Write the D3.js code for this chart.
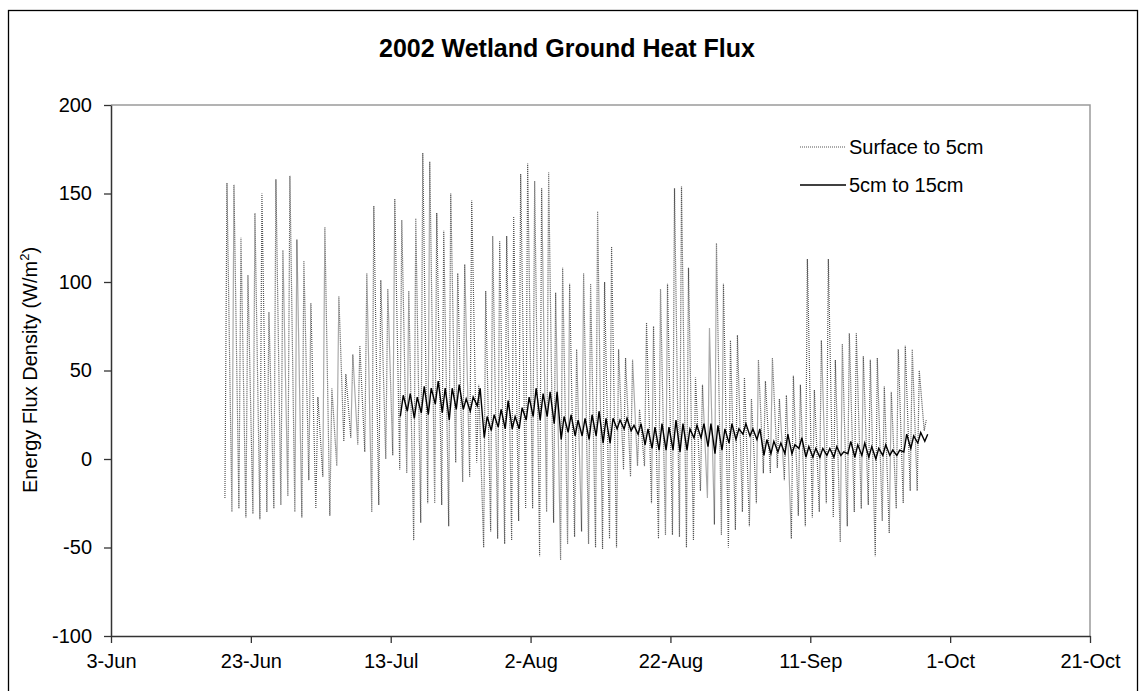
<!DOCTYPE html>
<html>
<head>
<meta charset="utf-8">
<style>
  body { margin: 0; background: #fff; }
  text { font-family: "Liberation Sans", Arial, sans-serif; fill: #000; }
</style>
</head>
<body>
<div id="chart-area"></div>

<script src="https://d3js.org/d3.v7.min.js"></script>
<script>
    // tick labels
    const xTickLabels = ["3-Jun", "23-Jun", "13-Jul", "2-Aug", "22-Aug", "11-Sep", "1-Oct", "21-Oct"];
    const yTicks = [-100, -50, 0, 50, 100, 150, 200];

    // Surface to 5cm: one peak and one trough per day, starting 19-Jun
    const surfStart = "19-Jun";
    const surfMax = [
        156, 155, 125, 104, 139, 150, 83, 158, 118, 160,
        124, 112, 88, 35, 131, 40, 92, 48, 59, 64,
        105, 143, 101, 96, 147, 135, 95, 136, 173, 168,
        139, 129, 150, 105, 110, 146, 42, 95, 126, 123,
        126, 137, 161, 167, 157, 153, 162, 94, 108, 99,
        62, 105, 99, 140, 100, 120, 62, 57, 56, 28,
        77, 75, 96, 99, 153, 154, 108, 46, 42, 74,
        122, 99, 67, 70, 46, 34, 56, 44, 57, 34,
        36, 47, 42, 113, 39, 67, 113, 56, 65, 71,
        71, 58, 56, 57, 41, 38, 62, 64, 62, 50,
        22
    ];
    const surfMin = [
        -22, -30, -28, -33, -31, -34, -30, -28, -26, -21,
        -30, -33, -12, -28, -10, -32, -4, 10, 12, 8,
        4, -30, -26, 0, 2, -6, -8, -46, -36, -25,
        -25, -26, -38, -2, -13, -10, -2, -50, -41, -45,
        -48, -46, -35, -28, -28, -55, -30, -36, -57, -48,
        -44, -41, -48, -50, -51, -45, -50, -6, -10, -4,
        -4, -25, -45, -43, -43, -44, -50, -46, -18, -22,
        -37, -43, -50, -40, -30, -38, -25, -8, -8, -5,
        -12, -45, -32, -38, -33, -30, -25, -33, -47, -38,
        -30, -28, -26, -55, -35, -42, -28, -25, -18, -18,
        16
    ];

    // 5cm to 15cm: daily max / min, starting 14-Jul
    const deepStart = "14-Jul";
    const deepMax = [
        36, 37, 35, 41, 40, 44, 40, 40, 42, 34,
        35, 40, 24, 25, 28, 33, 24, 29, 35, 40,
        37, 38, 38, 24, 25, 22, 23, 25, 27, 23,
        23, 22, 23, 19, 20, 17, 18, 20, 18, 22,
        20, 17, 19, 20, 20, 19, 17, 20, 17, 20,
        17, 17, 11, 10, 9, 14, 8, 12, 7, 6,
        6, 6, 7, 4, 10, 8, 9, 7, 6, 8,
        5, 5, 14, 13, 15, 14
    ];
    const deepMin = [
        24, 27, 23, 26, 25, 31, 26, 22, 28, 28,
        27, 30, 12, 16, 18, 17, 17, 17, 22, 24,
        22, 24, 20, 11, 15, 13, 13, 11, 13, 9,
        9, 17, 17, 16, 14, 8, 6, 5, 5, 5,
        4, 5, 12, 12, 7, 3, 5, 9, 11, 14,
        13, 11, 2, 3, 4, 3, 3, 6, 1, 1,
        1, 2, 1, 2, 3, 1, 2, 1, 0, 2,
        2, 2, 4, 6, 9, 10
    ];

    const width = 1143;
    const height = 691;
    const margin = { left: 111, right: 1090, top: 105, bottom: 636 };

    const parseDay = s => d3.timeParse("%d-%b-%Y")(s + "-2002");
    const tickDates = xTickLabels.map(parseDay);

    // morning trough then afternoon peak for each day
    function buildSeries(start, lows, highs, lowHour, highHour) {
        const t0 = parseDay(start);
        const pts = [];
        lows.forEach((lo, i) => {
            const day = d3.timeDay.offset(t0, i);
            pts.push({ t: d3.timeHour.offset(day, lowHour), v: lo });
            pts.push({ t: d3.timeHour.offset(day, highHour), v: highs[i] });
        });
        return pts;
    }
    const surface = buildSeries(surfStart, surfMin, surfMax, 7, 14);
    const deep = buildSeries(deepStart, deepMin, deepMax, 9, 19);

    const svg = d3.select("#chart-area")
        .append("svg")
            .attr("width", width)
            .attr("height", height);

    // outer chart border
    svg.append("rect")
        .attr("x", 8.5).attr("y", 10.5)
        .attr("width", 1129).attr("height", 700)
        .attr("fill", "#fff")
        .attr("stroke", "#000")
        .attr("stroke-width", 1.3);

    const x = d3.scaleTime()
        .domain([tickDates[0], tickDates[tickDates.length - 1]])
        .range([margin.left, margin.right]);
    const y = d3.scaleLinear()
        .domain([-100, 200])
        .range([margin.bottom, margin.top]);

    // plot area frame (top + right are light grey)
    svg.append("path")
        .attr("d", `M${margin.left},${margin.top}H${margin.right}V${margin.bottom}`)
        .attr("fill", "none")
        .attr("stroke", "#9a9a9a")
        .attr("stroke-width", 1.5);

    const line = d3.line()
        .x(d => x(d.t))
        .y(d => y(d.v));

    svg.append("path")
        .datum(surface)
        .attr("d", line)
        .attr("fill", "none")
        .attr("stroke", "#555")
        .attr("stroke-width", 1.2)
        .attr("stroke-dasharray", "1,1");

    svg.append("path")
        .datum(deep)
        .attr("d", line)
        .attr("fill", "none")
        .attr("stroke", "#000")
        .attr("stroke-width", 1.4);

    // axes
    const xAxis = d3.axisBottom(x)
        .tickValues(tickDates)
        .tickFormat(d3.timeFormat("%-d-%b"))
        .tickSizeInner(7).tickSizeOuter(0).tickPadding(11);
    const yAxis = d3.axisLeft(y)
        .tickValues(yTicks)
        .tickFormat(d => String(d))
        .tickSizeInner(7).tickSizeOuter(0).tickPadding(12);

    const gx = svg.append("g")
        .attr("transform", `translate(0,${margin.bottom})`)
        .call(xAxis);
    const gy = svg.append("g")
        .attr("transform", `translate(${margin.left},0)`)
        .call(yAxis);

    [gx, gy].forEach(g => {
        g.select(".domain").attr("stroke", "#333").attr("stroke-width", 1.5);
        g.selectAll(".tick line").attr("stroke", "#333").attr("stroke-width", 1.3);
        g.selectAll(".tick text")
            .style("font-family", "'Liberation Sans', Arial, sans-serif")
            .style("font-size", "20px")
            .attr("fill", "#000");
    });

    // title
    svg.append("text")
        .attr("x", 567).attr("y", 57)
        .attr("text-anchor", "middle")
        .style("font-size", "25px")
        .style("font-weight", "bold")
        .text("2002 Wetland Ground Heat Flux");

    // y label
    const yl = svg.append("text")
        .attr("transform", "translate(37,370) rotate(-90)")
        .attr("text-anchor", "middle")
        .style("font-size", "20px");
    yl.append("tspan").text("Energy Flux Density (W/m");
    yl.append("tspan").attr("dy", -8).style("font-size", "13px").text("2");
    yl.append("tspan").attr("dy", 8).text(")");

    // legend
    const legendItems = [
        { name: "Surface to 5cm", dash: "1,1", color: "#555", w: 1.2 },
        { name: "5cm to 15cm", dash: null, color: "#000", w: 1.4 }
    ];
    const lg = svg.append("g");
    legendItems.forEach((it, i) => {
        const yy = 147 + i * 38;
        lg.append("line")
            .attr("x1", 800).attr("x2", 846)
            .attr("y1", yy).attr("y2", yy)
            .attr("stroke", it.color)
            .attr("stroke-width", it.w)
            .attr("stroke-dasharray", it.dash);
        lg.append("text")
            .attr("x", 849).attr("y", yy + 7)
            .style("font-size", "20px")
            .text(it.name);
    });
</script>
</body>
</html>
